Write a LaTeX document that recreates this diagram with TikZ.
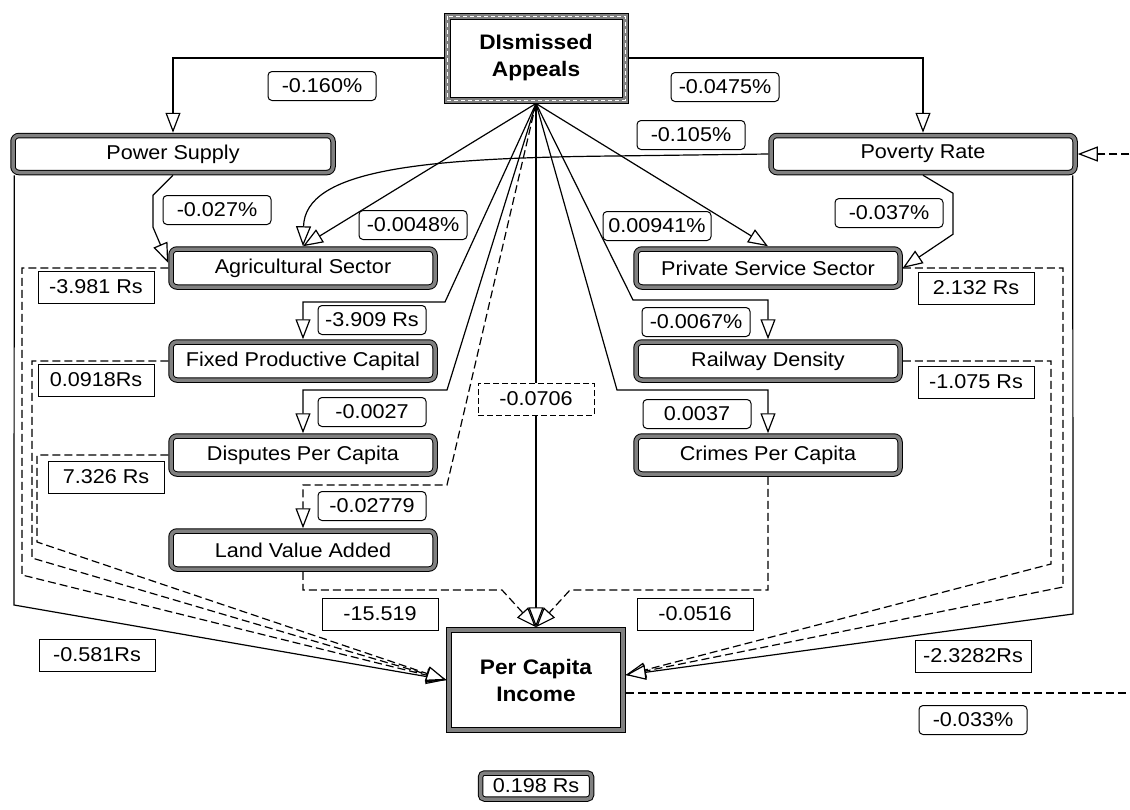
\documentclass[tikz,border=0pt]{standalone}
\usepackage{fontspec}
\setmainfont[FakeStretch=1.08]{Liberation Sans}
\usetikzlibrary{arrows.meta}

\begin{document}
\begin{tikzpicture}[
		x=1pt,y=-1pt,
		font=\fontsize{20}{24}\selectfont,
		>={Triangle[length=20pt,width=15pt,fill=white]},
		link/.style={line width=1.2pt},
		dlink/.style={line width=1.2pt,dash pattern=on 8pt off 4pt},
		factor/.style={draw=black,line width=1pt,double=gray,double distance=3.5pt,rounded corners=6pt,fill=white,minimum width=264pt,minimum height=38pt,inner sep=0pt,outer sep=2.75pt},
		main/.style={factor,sharp corners,font=\fontsize{21}{27}\selectfont\bfseries,align=center},
		rcoef/.style={draw,line width=1pt,fill=white,rounded corners=4pt,minimum width=108pt,minimum height=29pt,inner sep=0pt},
		scoef/.style={draw,line width=1pt,fill=white,minimum width=116pt,minimum height=32pt,inner sep=0pt},
		dcoef/.style={scoef,dash pattern=on 6pt off 3pt}
	]
	\useasboundingbox (0,0) rectangle (1130,809);

	\node [main,double distance=5pt,outer sep=3.5pt,minimum width=178pt,minimum height=84pt] (appeals) at (536,58) {DIsmissed\\Appeals};
	\draw [white,line width=0.8pt,dash pattern=on 4pt off 3pt] ([shift={(3.5,3.5)}]appeals.north west) rectangle ([shift={(-3.5,-3.5)}]appeals.south east);
	\node [factor,minimum width=320pt,minimum height=37pt] (power) at (173,154) {Power Supply};
	\node [factor,minimum width=304pt,minimum height=37pt] (poverty) at (923,154) {Poverty Rate};
	\node [factor] (agri) at (303,268) {Agricultural Sector};
	\node [factor] (fixed) at (303,361) {Fixed Productive Capital};
	\node [factor] (disputes) at (303,455) {Disputes Per Capita};
	\node [factor] (land) at (303,550) {Land Value Added};
	\node [factor] (private) at (768,268) {Private Service Sector};
	\node [factor] (railway) at (768,361) {Railway Density};
	\node [factor] (crimes) at (768,455) {Crimes Per Capita};
	\node [main,minimum width=174pt,minimum height=100pt] (income) at (536,680) {Per Capita\\Income};

	\draw [link,->] (appeals.west) -| (power.north);
	\draw [link,->] (appeals.east) -| (poverty.north);
	\draw [link,->] (appeals.south) -- (agri.north);
	\draw [link,->] (appeals.south) -- (445,302) -| (fixed.north);
	\draw [link,->] (appeals.south) -- (447,390) -| (disputes.north);
	\draw [dlink,->] (appeals.south) -- (447,485) -| (land.north);
	\draw [link,->] (appeals.south) -- (income.north);
	\draw [link,->] (appeals.south) -- (633,300) -| (railway.north);
	\draw [link,->] (appeals.south) -- (617,390) -| (crimes.north);
	\draw [link,->] (appeals.south) -- (private.north);

	\draw [link,->] (poverty.west) -- (613,156) .. controls (420,158) and (305,170) .. (agri.north);
	\draw [link,->] (power.south) -- ++(-20,20) -- ++(0,32) -- ([yshift=5pt]agri.west);
	\draw [link,->] (poverty.south) -- ++(30,18) -- ++(0,41) -- (private.east);

	\draw [link,->] ([xshift=4pt]power.south west) -- (14,605) -- (income.west);
	\draw [dlink,->] (agri.west) -| (22,575) -- (income.west);
	\draw [dlink,->] (fixed.west) -| (32,558) -- (income.west);
	\draw [dlink,->] (disputes.west) -| (37,542) -- (income.west);
	\draw [dlink,->] (land.south) |- (502,590) -- (income.north);
	\draw [dlink,->] (crimes.south) |- (570,590) -- (income.north);
	\draw [dlink,->] (private.east) -| (1063,587) -- ([yshift=5pt]income.east);
	\draw [dlink,->] (railway.east) -| (1051,564) -- ([yshift=5pt]income.east);
	\draw [link,->] ([xshift=-5pt]poverty.south east) -- (1073,614) -- ([yshift=5pt]income.east);

	\coordinate (loop) at (1160,0);
	\coordinate (fb) at ([yshift=-13pt]income.east);
	\draw [dlink,->] (fb) -- (fb -| loop) -- (poverty.east -| loop) -- (poverty.east);

	\node [rcoef] (w-power) at (322,86) {-0.160\%};
	\node [rcoef] (w-poverty) at (725,87) {-0.0475\%};
	\node [rcoef] (w-povagri) at (691,135) {-0.105\%};
	\node [rcoef] (w-poweragri) at (217,210) {-0.027\%};
	\node [rcoef] (w-agri) at (413,225) {-0.0048\%};
	\node [rcoef] (w-private) at (657,226) {0.00941\%};
	\node [rcoef] (w-povprivate) at (889,213) {-0.037\%};
	\node [rcoef] (w-fixed) at (372,320) {-3.909 Rs};
	\node [rcoef] (w-railway) at (696,322) {-0.0067\%};
	\node [rcoef] (w-disputes) at (372,412) {-0.0027};
	\node [rcoef] (w-crimes) at (697,414) {0.0037};
	\node [rcoef] (w-land) at (372,506) {-0.02779};
	\node [rcoef] (w-loop) at (973,720) {-0.033\%};

	\node [scoef] (y-agri) at (96,287) {-3.981 Rs};
	\node [scoef] (y-fixed) at (96,380) {0.0918Rs};
	\node [scoef] (y-disputes) at (106,477) {7.326 Rs};
	\node [scoef] (y-private) at (976,288) {2.132 Rs};
	\node [scoef] (y-railway) at (976,382) {-1.075 Rs};
	\node [scoef] (y-land) at (380,614) {-15.519};
	\node [scoef] (y-crimes) at (695,614) {-0.0516};
	\node [scoef] (y-power) at (97,655) {-0.581Rs};
	\node [scoef] (y-poverty) at (973,656) {-2.3282Rs};
	\node [dcoef] (y-appeals) at (536,399) {-0.0706};

	\node [factor,minimum width=111pt,minimum height=26pt,rounded corners=4pt] (y-const) at (536,786) {0.198 Rs};
\end{tikzpicture}
\end{document}
